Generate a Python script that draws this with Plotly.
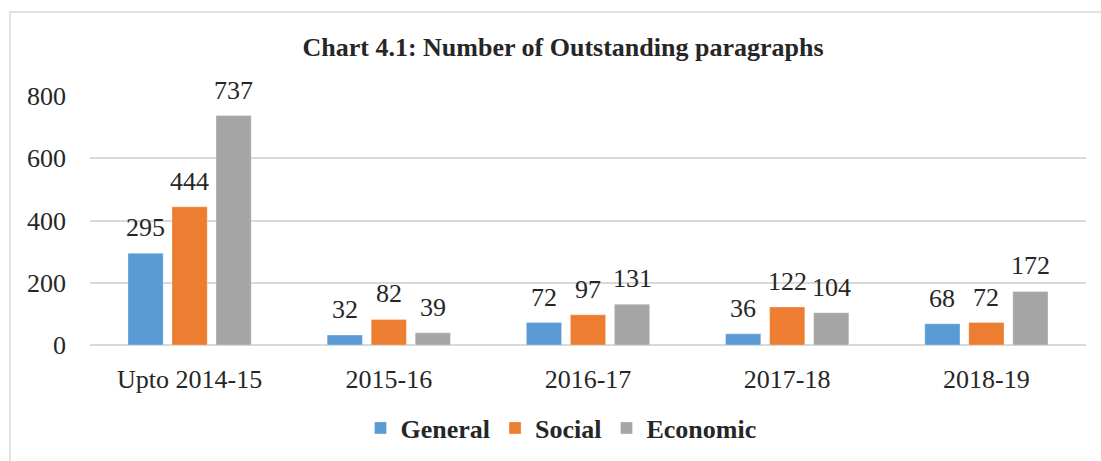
import plotly.graph_objects as go

categories = ["Upto 2014-15", "2015-16", "2016-17", "2017-18", "2018-19"]
general = [295, 32, 72, 36, 68]
social = [444, 82, 97, 122, 72]
economic = [737, 39, 131, 104, 172]
series_names = ["General", "Social", "Economic"]
colors = ["#5B9BD5", "#ED7D31", "#A5A5A5"]

W, H = 1101, 461
L, R, T, B = 90, 15, 96, 116
pw = W - L - R
ph = H - T - B
FONT = "Liberation Serif"
TXT = "#262626"
FS = 26

def px_to_paper_x(px):
    return (px - L) / pw

def px_to_paper_y(py):
    return (H - B - py) / ph

fig = go.Figure()
all_vals = [general, social, economic]
for name, vals, col in zip(series_names, all_vals, colors):
    fig.add_trace(go.Bar(
        x=categories, y=vals, name="<b>" + name + "</b>",
        marker=dict(color=col, line=dict(color="rgba(255,255,255,0.6)", width=0.5)),
        cliponaxis=False,
    ))

# data labels placed from the data values
slot_offsets = [-44, 0, 44]
annotations = []
for vals, dx in zip(all_vals, slot_offsets):
    for cat, v in zip(categories, vals):
        annotations.append(dict(
            x=cat, y=v, xref="x", yref="y", text=str(v), showarrow=False,
            xshift=dx, yshift=9, yanchor="bottom", xanchor="center",
            font=dict(family=FONT, size=FS, color=TXT)))

fig.update_layout(
    width=W, height=H,
    margin=dict(l=L, r=R, t=T, b=B, autoexpand=False),
    paper_bgcolor="white", plot_bgcolor="white",
    barmode="group", bargap=0.337, bargroupgap=0.2,
    title=dict(text="<b>Chart 4.1: Number of Outstanding paragraphs</b>",
               font=dict(family=FONT, size=FS, color=TXT),
               x=px_to_paper_x(563), xref="paper", xanchor="center",
               y=1 - 47 / H, yref="container", yanchor="middle"),
    font=dict(family=FONT, size=FS, color=TXT),
    xaxis=dict(showgrid=False, showline=False, ticks="",
               tickfont=dict(family=FONT, size=FS, color=TXT),
               ticklabelstandoff=16),
    yaxis=dict(range=[0, 800], tickvals=[0, 200, 400, 600, 800],
               showgrid=True, gridcolor="#D9D9D9", gridwidth=1.5,
               zeroline=True, zerolinecolor="#D9D9D9", zerolinewidth=1.5,
               showline=False, ticks="",
               tickfont=dict(family=FONT, size=FS, color=TXT),
               ticklabelstandoff=23),
    legend=dict(orientation="h", x=px_to_paper_x(561), xanchor="center",
                y=px_to_paper_y(428), yanchor="middle",
                font=dict(family=FONT, size=FS, color=TXT),
                itemwidth=30, traceorder="normal"),
    showlegend=True,
    annotations=annotations,
)

fig.add_shape(type="rect", xref="paper", yref="paper",
              x0=px_to_paper_x(10), x1=px_to_paper_x(1110),
              y0=px_to_paper_y(470), y1=px_to_paper_y(12),
              line=dict(color="#D9D9D9", width=1.5), fillcolor="rgba(0,0,0,0)",
              layer="below")

fig.write_html("out.html", config={"displayModeBar": False},
               post_script="document.body.style.margin='0px';")
